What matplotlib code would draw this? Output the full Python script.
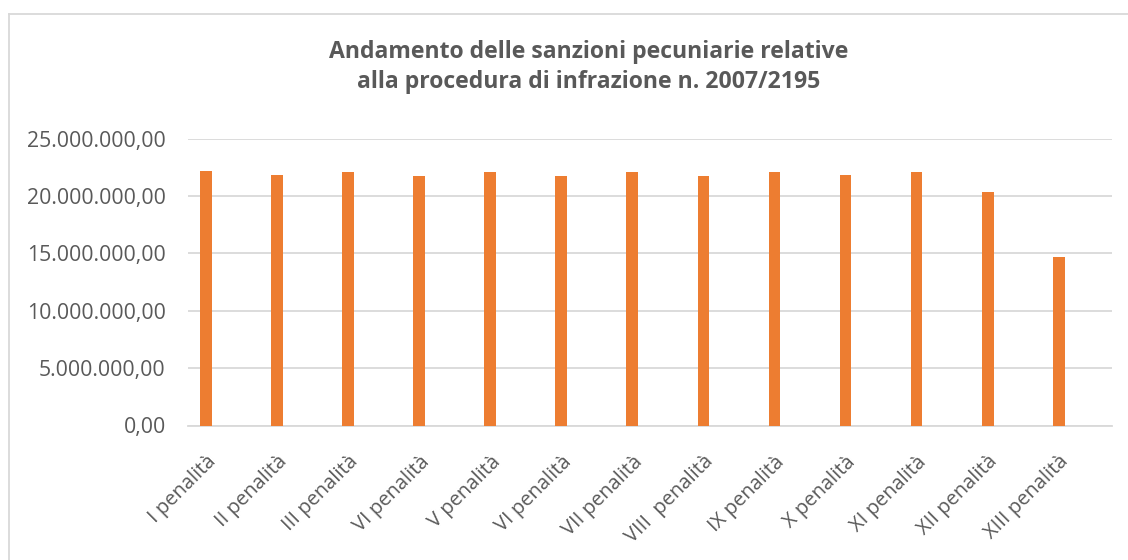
import matplotlib
matplotlib.use("Agg")
import matplotlib.pyplot as plt
from matplotlib.lines import Line2D
from matplotlib.ticker import FuncFormatter

labels = ["I penalità", "II penalità", "III penalità", "VI penalità", "V penalità",
          "VI penalità", "VII penalità", "VIII  penalità", "IX penalità", "X penalità",
          "XI penalità", "XII penalità", "XIII penalità"]
values = [22180000, 21830000, 22060000, 21720000, 22060000, 21720000, 22060000,
          21720000, 22060000, 21830000, 22060000, 20340000, 14670000]
yticks = [0, 5000000, 10000000, 15000000, 20000000, 25000000]

TEXT = "#595959"
GRID = "#d9d9d9"
BAR = "#ed7d31"

plt.rcParams["font.family"] = ["Open Sans", "DejaVu Sans"]

fig = plt.figure(figsize=(11.28, 5.6), dpi=100, facecolor="white")
ax = fig.add_axes([188 / 1128, 1 - 425.5 / 560, (1112 - 188) / 1128, (425.5 - 138.5) / 560])

x = list(range(len(values)))
ax.bar(x, values, width=0.165, color=BAR, zorder=3)

ax.set_xlim(-0.253, 12.75)
ax.set_ylim(0, 25000000)
ax.set_yticks(yticks)
ax.yaxis.set_major_formatter(
    FuncFormatter(lambda v, p: f"{v:,.2f}".replace(",", "X").replace(".", ",").replace("X", "."))
)
ax.grid(axis="y", color=GRID, linewidth=1.3, zorder=0)
for side in ("top", "right", "left"):
    ax.spines[side].set_visible(False)
ax.spines["bottom"].set_color(GRID)
ax.spines["bottom"].set_linewidth(1.3)
ax.tick_params(axis="y", length=0, pad=16, labelsize=15.3, labelcolor=TEXT)
ax.tick_params(axis="x", length=0, pad=19, labelsize=14.5, labelcolor=TEXT)
ax.set_xticks(x)
ax.set_xticklabels(labels, rotation=45, ha="right", rotation_mode="anchor")

fig.text(0.522, 1 - 67 / 560,
         "Andamento delle sanzioni pecuniarie relative\nalla procedura di infrazione n. 2007/2195",
         ha="center", va="center", fontsize=16.6, fontweight="bold", color=TEXT,
         linespacing=1.3)

# chart area border (left and top edges visible)
fig.add_artist(Line2D([8.5 / 1128, 8.5 / 1128], [0, 1 - 14 / 560],
                      transform=fig.transFigure, color=GRID, linewidth=1.3))
fig.add_artist(Line2D([8.5 / 1128, 1], [1 - 14 / 560, 1 - 14 / 560],
                      transform=fig.transFigure, color=GRID, linewidth=1.3))

fig.savefig("out.png", dpi=100, facecolor="white")
